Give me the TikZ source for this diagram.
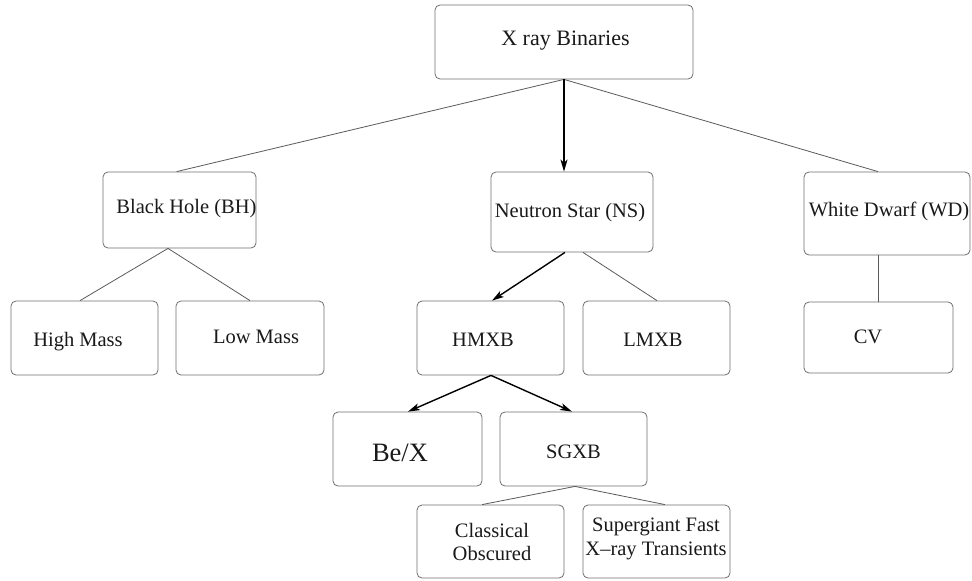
\documentclass[tikz,border=0pt]{standalone}
\usepackage{fontspec}
\setmainfont{Liberation Serif}
\usetikzlibrary{arrows.meta,calc}
\definecolor{boxgray}{HTML}{6E6E6E}
\definecolor{linegray}{HTML}{5A5A5A}
\tikzset{
  box/.style={draw=boxgray, line width=0.8pt, rounded corners=5pt, inner sep=0pt},
  lbl/.style={inner sep=0pt, font=\fontsize{20.5}{23.5}\selectfont, align=center, text=black!90},
  thin/.style={draw=linegray, line width=0.8pt},
  arr/.style={draw=black, line width=1.4pt, -{Stealth[length=12pt,width=7pt,inset=3pt]}},
}
\begin{document}
\begin{tikzpicture}[x=1pt,y=-1pt]
\useasboundingbox (0,0) rectangle (972,581);
% boxes
\node[box, minimum width=258pt, minimum height=74pt] (xrb) at (564,42) {};
\node[box, minimum width=153pt, minimum height=76pt] (bh) at (179.5,210) {};
\node[box, minimum width=162pt, minimum height=80pt] (ns) at (572,212) {};
\node[box, minimum width=166pt, minimum height=83pt] (wd) at (887,213.5) {};
\node[box, minimum width=147pt, minimum height=74pt] (hm) at (84.5,338) {};
\node[box, minimum width=148pt, minimum height=74pt] (lm) at (250,338) {};
\node[box, minimum width=147pt, minimum height=74pt] (hmxb) at (490.5,338) {};
\node[box, minimum width=147pt, minimum height=74pt] (lmxb) at (656.5,338) {};
\node[box, minimum width=149pt, minimum height=71pt] (cv) at (878.5,337.5) {};
\node[box, minimum width=149pt, minimum height=74pt] (bex) at (407.5,449) {};
\node[box, minimum width=147pt, minimum height=74pt] (sgxb) at (573.5,449) {};
\node[box, minimum width=147pt, minimum height=73pt] (cl) at (490.5,541.5) {};
\node[box, minimum width=147pt, minimum height=73pt] (sf) at (656.5,541.5) {};
% texts
\node[lbl, font=\fontsize{22}{25}\selectfont] (txrb) at (565.5,41) {X ray Binaries};
\node[lbl] (tbh) at (186.5,209) {Black Hole (BH)};
\node[lbl] (tns) at (570,213) {Neutron Star (NS)};
\node[lbl] (twd) at (889,211) {White Dwarf (WD)};
\node[lbl] (thm) at (78,342) {High Mass};
\node[lbl] (tlm) at (256,337) {Low Mass};
\node[lbl] (thmxb) at (483,340) {HMXB};
\node[lbl] (tlmxb) at (653,340) {LMXB};
\node[lbl] (tcv) at (868,337) {CV};
\node[lbl, font=\fontsize{26.5}{30}\selectfont] (tbex) at (400,453) {Be/X};
\node[lbl] (tsgxb) at (573.5,452) {SGXB};
\node[lbl] (tcl) at (492,542) {Classical\\Obscured};
\node[lbl] (tsf) at (656,539) {Supergiant Fast\\X\textendash ray Transients};
% junction points
\coordinate (xrbB) at ([xshift=0pt]xrb.south);
\coordinate (bhB) at ([xshift=-11.5pt]bh.south);
\coordinate (nsA) at ([xshift=-7pt]ns.south);
\coordinate (nsB) at ([xshift=11pt]ns.south);
\coordinate (wdB) at ([xshift=-9pt]wd.south);
\coordinate (hmxbB) at ([xshift=0.5pt]hmxb.south);
\coordinate (sgxbB) at ([xshift=1.5pt]sgxb.south);
% connectors
\draw[thin] (xrbB) -- ([xshift=74pt]bh.north west);
\draw[thin] (xrbB) -- ([xshift=-9pt]wd.north);
\draw[arr] (xrbB) -- (xrbB |- ns.north);
\draw[thin] (bhB) -- ([xshift=-4.5pt]hm.north);
\draw[thin] (bhB) -- (lm.north);
\draw[arr] (nsA) -- ([xshift=1.5pt]hmxb.north);
\draw[thin] (nsB) -- ([xshift=0.5pt]lmxb.north);
\draw[thin] (wdB) -- (wdB |- cv.north);
\draw[arr] (hmxbB) -- ([xshift=0.5pt]bex.north);
\draw[arr] (hmxbB) -- ([xshift=-1.5pt]sgxb.north);
\draw[thin] (sgxbB) -- ([xshift=-8.5pt]cl.north);
\draw[thin] (sgxbB) -- ([xshift=8.5pt]sf.north);
\end{tikzpicture}
\end{document}
